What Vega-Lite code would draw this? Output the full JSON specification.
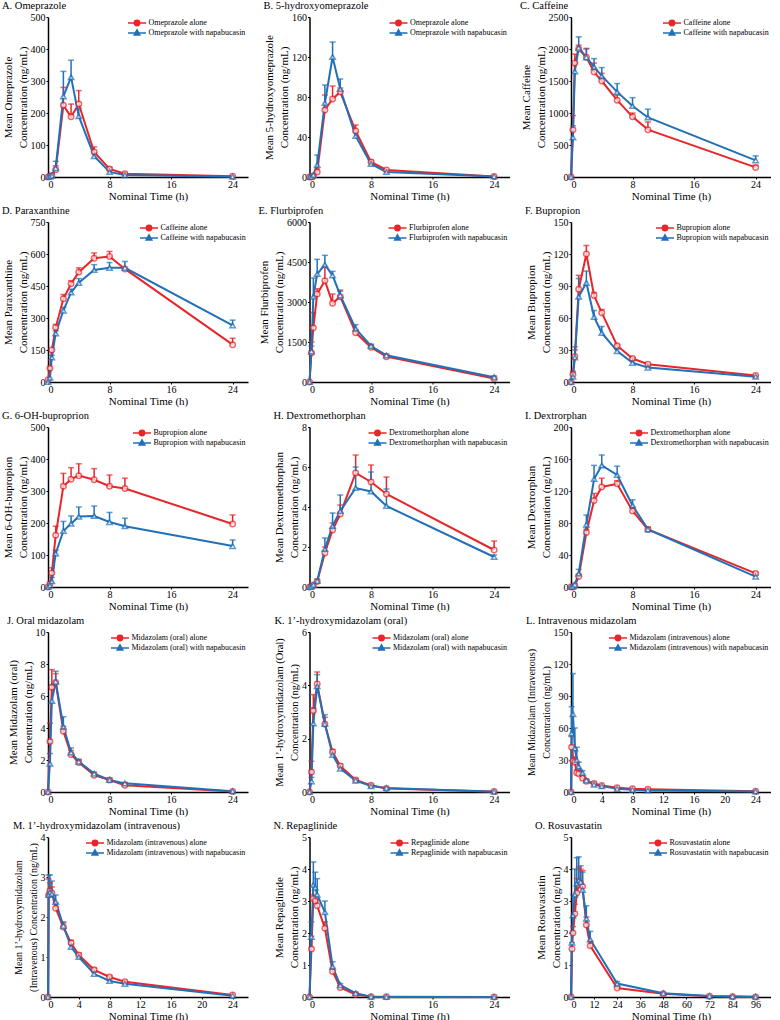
{
"$schema":"https://vega.github.io/schema/vega-lite/v6.json",
"padding":{"left":2,"top":0,"right":0,"bottom":0},
"columns":3,
"spacing":{"row":45,"column":61.5},
"bounds":"flush",
"resolve":{"scale":{"color":"independent","shape":"independent"},"legend":{"color":"independent","shape":"independent"}},
"config":{
 "view":{"stroke":null},
 "numberFormat":"d",
 "title":{"font":"Liberation Serif","fontSize":10.5,"fontWeight":"normal","anchor":"start","frame":"bounds","offset":1,"color":"black"},
 "axis":{"labelFont":"Liberation Serif","labelFontSize":10,"labelColor":"black","titleFont":"Liberation Serif","titleFontSize":11,"titleFontWeight":"normal","titleColor":"black","domainColor":"black","domainWidth":1.5,"tickColor":"black","tickSize":2,"grid":false,"labelPadding":0},
 "axisX":{"titlePadding":1},
 "axisY":{"titlePadding":2,"titleLineHeight":15,"labelPadding":1},
 "legend":{"orient":"top-right","offset":2,"padding":0,"labelFont":"Liberation Serif","labelFontSize":8,"labelColor":"black","symbolSize":36,"symbolStrokeWidth":2,"symbolOpacity":1,"rowPadding":-6,"labelOffset":7.5},
 "line":{"strokeWidth":2},
 "rule":{"strokeWidth":1.5},
 "tick":{"thickness":1.5},
 "point":{"size":30,"strokeWidth":1.5}
},
"datasets":{
"A":[{"t":0,"g":"a","m":0},{"t":0.25,"g":"a","m":2},{"t":0.5,"g":"a","m":5},{"t":1,"g":"a","m":23,"u":35},{"t":2,"g":"a","m":224,"u":280},{"t":3,"g":"a","m":188,"u":228},{"t":4,"g":"a","m":228,"u":270},{"t":6,"g":"a","m":78,"u":94},{"t":8,"g":"a","m":25,"u":31},{"t":10,"g":"a","m":10,"u":13},{"t":24,"g":"a","m":2},
{"t":0,"g":"n","m":0},{"t":0.25,"g":"n","m":1},{"t":0.5,"g":"n","m":4,"u":8},{"t":1,"g":"n","m":28,"u":49},{"t":2,"g":"n","m":252,"u":330},{"t":3,"g":"n","m":312,"u":365},{"t":4,"g":"n","m":190,"u":215},{"t":6,"g":"n","m":65,"u":75},{"t":8,"g":"n","m":16,"u":21},{"t":10,"g":"n","m":6},{"t":24,"g":"n","m":1}],
"B":[{"t":0,"g":"a","m":0},{"t":0.25,"g":"a","m":0},{"t":0.5,"g":"a","m":1},{"t":1,"g":"a","m":5,"u":8},{"t":2,"g":"a","m":67,"u":82},{"t":3,"g":"a","m":78,"u":91},{"t":4,"g":"a","m":85,"u":89},{"t":6,"g":"a","m":46,"u":52},{"t":8,"g":"a","m":15,"u":17},{"t":10,"g":"a","m":7},{"t":24,"g":"a","m":0.5},
{"t":0,"g":"n","m":0},{"t":0.25,"g":"n","m":0},{"t":0.5,"g":"n","m":2},{"t":1,"g":"n","m":12,"u":22},{"t":2,"g":"n","m":74,"u":92},{"t":3,"g":"n","m":120,"u":135},{"t":4,"g":"n","m":88,"u":98},{"t":6,"g":"n","m":41,"u":45},{"t":8,"g":"n","m":13,"u":15},{"t":10,"g":"n","m":5},{"t":24,"g":"n","m":0.5}],
"C":[{"t":0,"g":"a","m":0},{"t":0.25,"g":"a","m":740,"u":960},{"t":0.5,"g":"a","m":1780,"u":1920},{"t":1,"g":"a","m":2000,"u":2060},{"t":2,"g":"a","m":1870,"u":2010},{"t":3,"g":"a","m":1640,"u":1780},{"t":4,"g":"a","m":1500,"u":1620},{"t":6,"g":"a","m":1200,"u":1280},{"t":8,"g":"a","m":940,"u":1000},{"t":10,"g":"a","m":740,"u":860},{"t":24,"g":"a","m":150,"u":180},
{"t":0,"g":"n","m":0},{"t":0.25,"g":"n","m":620,"u":800},{"t":0.5,"g":"n","m":1650,"u":1780},{"t":1,"g":"n","m":2020,"u":2190},{"t":2,"g":"n","m":1870,"u":2000},{"t":3,"g":"n","m":1720,"u":1850},{"t":4,"g":"n","m":1580,"u":1710},{"t":6,"g":"n","m":1330,"u":1460},{"t":8,"g":"n","m":1110,"u":1240},{"t":10,"g":"n","m":930,"u":1060},{"t":24,"g":"n","m":260,"u":330}],
"D":[{"t":0,"g":"a","m":10},{"t":0.25,"g":"a","m":65},{"t":0.5,"g":"a","m":150},{"t":1,"g":"a","m":255,"u":270},{"t":2,"g":"a","m":390,"u":410},{"t":3,"g":"a","m":460,"u":475},{"t":4,"g":"a","m":515,"u":535},{"t":6,"g":"a","m":580,"u":605},{"t":8,"g":"a","m":588,"u":612},{"t":10,"g":"a","m":530},{"t":24,"g":"a","m":175,"u":205},
{"t":0,"g":"n","m":0},{"t":0.25,"g":"n","m":20},{"t":0.5,"g":"n","m":115,"u":125},{"t":1,"g":"n","m":228,"u":240},{"t":2,"g":"n","m":335,"u":350},{"t":3,"g":"n","m":420,"u":435},{"t":4,"g":"n","m":465,"u":485},{"t":6,"g":"n","m":525,"u":550},{"t":8,"g":"n","m":535,"u":560},{"t":10,"g":"n","m":535,"u":565},{"t":24,"g":"n","m":265,"u":290}],
"E":[{"t":0,"g":"a","m":0},{"t":0.25,"g":"a","m":1100,"u":1500},{"t":0.5,"g":"a","m":2030,"u":2600},{"t":1,"g":"a","m":3300,"u":3500},{"t":2,"g":"a","m":3800,"u":4300},{"t":3,"g":"a","m":2950,"u":3300},{"t":4,"g":"a","m":3200,"u":3450},{"t":6,"g":"a","m":1850,"u":1950},{"t":8,"g":"a","m":1300,"u":1380},{"t":10,"g":"a","m":950},{"t":24,"g":"a","m":130},
{"t":0,"g":"n","m":0},{"t":0.25,"g":"n","m":1150,"u":1350},{"t":0.5,"g":"n","m":3200,"u":3900},{"t":1,"g":"n","m":4050,"u":4600},{"t":2,"g":"n","m":4400,"u":4750},{"t":3,"g":"n","m":4000,"u":4150},{"t":4,"g":"n","m":3250,"u":3400},{"t":6,"g":"n","m":2000,"u":2150},{"t":8,"g":"n","m":1350,"u":1420},{"t":10,"g":"n","m":1000,"u":1050},{"t":24,"g":"n","m":180,"u":220}],
"F":[{"t":0,"g":"a","m":0},{"t":0.25,"g":"a","m":7,"u":10},{"t":0.5,"g":"a","m":24,"u":30},{"t":1,"g":"a","m":87,"u":100},{"t":2,"g":"a","m":120,"u":128},{"t":3,"g":"a","m":81,"u":84},{"t":4,"g":"a","m":65,"u":68},{"t":6,"g":"a","m":34,"u":35},{"t":8,"g":"a","m":22,"u":23},{"t":10,"g":"a","m":16.6},{"t":24,"g":"a","m":6},
{"t":0,"g":"n","m":0},{"t":0.25,"g":"n","m":5,"u":8},{"t":0.5,"g":"n","m":23,"u":33},{"t":1,"g":"n","m":80,"u":97},{"t":2,"g":"n","m":93,"u":104},{"t":3,"g":"n","m":61,"u":67},{"t":4,"g":"n","m":46,"u":52},{"t":6,"g":"n","m":29,"u":31},{"t":8,"g":"n","m":18,"u":20},{"t":10,"g":"n","m":13.5,"u":15},{"t":24,"g":"n","m":5,"u":6}],
"G":[{"t":0,"g":"a","m":0},{"t":0.25,"g":"a","m":10},{"t":0.5,"g":"a","m":44,"u":60},{"t":1,"g":"a","m":162,"u":190},{"t":2,"g":"a","m":315,"u":355},{"t":3,"g":"a","m":337,"u":373},{"t":4,"g":"a","m":348,"u":385},{"t":6,"g":"a","m":335,"u":370},{"t":8,"g":"a","m":315,"u":350},{"t":10,"g":"a","m":308,"u":340},{"t":24,"g":"a","m":197,"u":225},
{"t":0,"g":"n","m":0},{"t":0.25,"g":"n","m":5},{"t":0.5,"g":"n","m":18,"u":30},{"t":1,"g":"n","m":105,"u":115},{"t":2,"g":"n","m":175,"u":205},{"t":3,"g":"n","m":198,"u":222},{"t":4,"g":"n","m":220,"u":250},{"t":6,"g":"n","m":222,"u":253},{"t":8,"g":"n","m":203,"u":233},{"t":10,"g":"n","m":190,"u":215},{"t":24,"g":"n","m":128,"u":147}],
"H":[{"t":0,"g":"a","m":0},{"t":0.25,"g":"a","m":0.02},{"t":0.5,"g":"a","m":0.1},{"t":1,"g":"a","m":0.28},{"t":2,"g":"a","m":1.7,"u":2.0},{"t":3,"g":"a","m":2.85,"u":3.2},{"t":4,"g":"a","m":3.65,"u":4.1},{"t":6,"g":"a","m":5.7,"u":6.6},{"t":8,"g":"a","m":5.25,"u":6.1},{"t":10,"g":"a","m":4.65,"u":5.5},{"t":24,"g":"a","m":1.85,"u":2.3},
{"t":0,"g":"n","m":0},{"t":0.25,"g":"n","m":0.02},{"t":0.5,"g":"n","m":0.1},{"t":1,"g":"n","m":0.3,"u":0.4},{"t":2,"g":"n","m":1.9,"u":2.45},{"t":3,"g":"n","m":3.05,"u":3.7},{"t":4,"g":"n","m":3.8,"u":4.6},{"t":6,"g":"n","m":4.95,"u":6.0},{"t":8,"g":"n","m":4.78,"u":5.75},{"t":10,"g":"n","m":4.05,"u":4.9},{"t":24,"g":"n","m":1.5,"u":1.6}],
"I":[{"t":0,"g":"a","m":0},{"t":0.25,"g":"a","m":0},{"t":0.5,"g":"a","m":2},{"t":1,"g":"a","m":13,"u":16},{"t":2,"g":"a","m":68,"u":72},{"t":3,"g":"a","m":108,"u":117},{"t":4,"g":"a","m":125,"u":136},{"t":6,"g":"a","m":129,"u":133},{"t":8,"g":"a","m":95,"u":100},{"t":10,"g":"a","m":72,"u":74},{"t":24,"g":"a","m":17,"u":18},
{"t":0,"g":"n","m":0},{"t":0.25,"g":"n","m":0.5},{"t":0.5,"g":"n","m":3},{"t":1,"g":"n","m":17,"u":22},{"t":2,"g":"n","m":78,"u":90},{"t":3,"g":"n","m":135,"u":152},{"t":4,"g":"n","m":152,"u":165},{"t":6,"g":"n","m":140,"u":151},{"t":8,"g":"n","m":102,"u":109},{"t":10,"g":"n","m":72,"u":75},{"t":24,"g":"n","m":13,"u":15}],
"J":[{"t":0,"g":"a","m":0},{"t":0.25,"g":"a","m":3.15,"u":4.3},{"t":0.5,"g":"a","m":6.55,"u":7.65},{"t":1,"g":"a","m":6.85,"u":7.4},{"t":2,"g":"a","m":3.8,"u":4.1},{"t":3,"g":"a","m":2.35,"u":2.6},{"t":4,"g":"a","m":1.85,"u":2.0},{"t":6,"g":"a","m":1.05,"u":1.15},{"t":8,"g":"a","m":0.75,"u":0.85},{"t":10,"g":"a","m":0.42,"u":0.5},{"t":24,"g":"a","m":0.03},
{"t":0,"g":"n","m":0},{"t":0.25,"g":"n","m":1.78,"u":2.4},{"t":0.5,"g":"n","m":5.7,"u":6.7},{"t":1,"g":"n","m":6.9,"u":7.55},{"t":2,"g":"n","m":4.08,"u":4.7},{"t":3,"g":"n","m":2.47,"u":2.75},{"t":4,"g":"n","m":1.9,"u":2.05},{"t":6,"g":"n","m":1.15,"u":1.25},{"t":8,"g":"n","m":0.75,"u":0.85},{"t":10,"g":"n","m":0.54,"u":0.6},{"t":24,"g":"n","m":0.05}],
"K":[{"t":0,"g":"a","m":0},{"t":0.25,"g":"a","m":0.75,"u":1.15},{"t":0.5,"g":"a","m":3.05,"u":3.65},{"t":1,"g":"a","m":4.05,"u":4.5},{"t":2,"g":"a","m":2.55,"u":2.8},{"t":3,"g":"a","m":1.5,"u":1.6},{"t":4,"g":"a","m":0.98,"u":1.05},{"t":6,"g":"a","m":0.45,"u":0.5},{"t":8,"g":"a","m":0.25,"u":0.28},{"t":10,"g":"a","m":0.13},{"t":24,"g":"a","m":0.02},
{"t":0,"g":"n","m":0},{"t":0.25,"g":"n","m":0.4,"u":0.55},{"t":0.5,"g":"n","m":2.57,"u":3.15},{"t":1,"g":"n","m":3.97,"u":4.4},{"t":2,"g":"n","m":2.55,"u":2.9},{"t":3,"g":"n","m":1.39,"u":1.5},{"t":4,"g":"n","m":0.88,"u":0.95},{"t":6,"g":"n","m":0.43,"u":0.48},{"t":8,"g":"n","m":0.22,"u":0.25},{"t":10,"g":"n","m":0.15,"u":0.17},{"t":24,"g":"n","m":0.01}],
"L":[{"t":0,"g":"a","m":0},{"t":0.083,"g":"a","m":42,"u":52},{"t":0.25,"g":"a","m":29,"u":40},{"t":0.5,"g":"a","m":28,"u":33},{"t":0.75,"g":"a","m":18,"u":21},{"t":1,"g":"a","m":17,"u":20},{"t":1.5,"g":"a","m":13},{"t":2,"g":"a","m":10,"u":11},{"t":3,"g":"a","m":8,"u":9},{"t":4,"g":"a","m":6},{"t":6,"g":"a","m":4},{"t":8,"g":"a","m":3},{"t":10,"g":"a","m":2.5},{"t":24,"g":"a","m":0.8},
{"t":0,"g":"n","m":0},{"t":0.083,"g":"n","m":55,"u":80},{"t":0.25,"g":"n","m":73,"u":111},{"t":0.5,"g":"n","m":41,"u":60},{"t":0.75,"g":"n","m":30,"u":42},{"t":1,"g":"n","m":24,"u":28},{"t":1.5,"g":"n","m":18,"u":20},{"t":2,"g":"n","m":11,"u":12},{"t":3,"g":"n","m":7,"u":8},{"t":4,"g":"n","m":5.5},{"t":6,"g":"n","m":3},{"t":8,"g":"n","m":2},{"t":10,"g":"n","m":1.5},{"t":24,"g":"n","m":0.5}],
"M":[{"t":0,"g":"a","m":0},{"t":0.083,"g":"a","m":2.55,"u":2.95},{"t":0.25,"g":"a","m":2.65,"u":2.85},{"t":0.5,"g":"a","m":2.6,"u":2.75},{"t":1,"g":"a","m":2.22,"u":2.35},{"t":2,"g":"a","m":1.75,"u":1.85},{"t":3,"g":"a","m":1.35,"u":1.42},{"t":4,"g":"a","m":1.05,"u":1.1},{"t":6,"g":"a","m":0.68,"u":0.72},{"t":8,"g":"a","m":0.5,"u":0.53},{"t":10,"g":"a","m":0.38,"u":0.4},{"t":24,"g":"a","m":0.05},
{"t":0,"g":"n","m":0},{"t":0.083,"g":"n","m":2.55,"u":3.05},{"t":0.25,"g":"n","m":2.62,"u":3.05},{"t":0.5,"g":"n","m":2.58,"u":2.9},{"t":1,"g":"n","m":2.38,"u":2.55},{"t":2,"g":"n","m":1.78,"u":1.88},{"t":3,"g":"n","m":1.25,"u":1.32},{"t":4,"g":"n","m":1.0,"u":1.05},{"t":6,"g":"n","m":0.58,"u":0.62},{"t":8,"g":"n","m":0.4,"u":0.43},{"t":10,"g":"n","m":0.33,"u":0.35},{"t":24,"g":"n","m":0.03}],
"N":[{"t":0,"g":"a","m":0},{"t":0.25,"g":"a","m":1.5,"u":1.9},{"t":0.5,"g":"a","m":3.08,"u":3.2},{"t":0.75,"g":"a","m":3.0,"u":3.15},{"t":1,"g":"a","m":2.85,"u":3.05},{"t":2,"g":"a","m":2.15,"u":2.35},{"t":3,"g":"a","m":0.8,"u":0.9},{"t":4,"g":"a","m":0.3,"u":0.35},{"t":6,"g":"a","m":0.08},{"t":8,"g":"a","m":0.01},{"t":10,"g":"a","m":0.01},{"t":24,"g":"a","m":0},
{"t":0,"g":"n","m":0},{"t":0.25,"g":"n","m":1.88,"u":2.35},{"t":0.5,"g":"n","m":3.5,"u":4.22},{"t":0.75,"g":"n","m":3.42,"u":3.9},{"t":1,"g":"n","m":3.2,"u":3.7},{"t":2,"g":"n","m":2.65,"u":3.0},{"t":3,"g":"n","m":0.95,"u":1.1},{"t":4,"g":"n","m":0.37,"u":0.42},{"t":6,"g":"n","m":0.12,"u":0.15},{"t":8,"g":"n","m":0.01},{"t":10,"g":"n","m":0},{"t":24,"g":"n","m":0}],
"O":[{"t":0,"g":"a","m":0},{"t":0.5,"g":"a","m":1.5,"u":1.7},{"t":1,"g":"a","m":2.0,"u":2.2},{"t":2,"g":"a","m":2.6,"u":2.9},{"t":3,"g":"a","m":3.25,"u":3.7},{"t":4,"g":"a","m":3.5,"u":4.05},{"t":5,"g":"a","m":3.55,"u":4.0},{"t":6,"g":"a","m":3.45,"u":3.95},{"t":8,"g":"a","m":2.25,"u":2.5},{"t":10,"g":"a","m":1.6,"u":1.75},{"t":24,"g":"a","m":0.28,"u":0.33},{"t":48,"g":"a","m":0.1},{"t":72,"g":"a","m":0.02},{"t":84,"g":"a","m":0.01},{"t":96,"g":"a","m":0},
{"t":0,"g":"n","m":0},{"t":0.5,"g":"n","m":1.7,"u":2.0},{"t":1,"g":"n","m":2.55,"u":3.2},{"t":2,"g":"n","m":3.2,"u":4.0},{"t":3,"g":"n","m":3.55,"u":4.35},{"t":4,"g":"n","m":3.65,"u":4.38},{"t":5,"g":"n","m":3.6,"u":4.1},{"t":6,"g":"n","m":3.35,"u":3.9},{"t":8,"g":"n","m":2.45,"u":2.85},{"t":10,"g":"n","m":1.8,"u":2.05},{"t":24,"g":"n","m":0.42,"u":0.48},{"t":48,"g":"n","m":0.12},{"t":72,"g":"n","m":0.03},{"t":84,"g":"n","m":0.02},{"t":96,"g":"n","m":0.01}]
},
"concat":[
{"title":"A. Omeprazole","data":{"name":"A"},"width":200,"height":160,
"encoding":{"x":{"field":"t","type":"quantitative","title":"Nominal Time (h)","scale":{"domain":[0,26]},"axis":{"values":[0,8,16,24]}},
"y":{"field":"m","type":"quantitative","title":["Mean Omeprazole","Concentration (ng/mL)"],"scale":{"domain":[0,500]},"axis":{"values":[0,100,200,300,400,500]}},
"color":{"field":"g","type":"nominal","scale":{"domain":["a","n"],"range":["#E8262A","#2170B8"]},"legend":{"title":null,"labelExpr":"datum.label == 'a' ? 'Omeprazole alone' : 'Omeprazole with napabucasin'"}}},
"layer":[
{"transform":[{"filter":"datum.u != null"}],"mark":"rule","encoding":{"y2":{"field":"u"}}},
{"transform":[{"filter":"datum.u != null"}],"mark":{"type":"tick","orient":"horizontal","size":6},"encoding":{"y":{"field":"u","type":"quantitative"}}},
{"mark":"line"},
{"transform":[{"filter":"datum.g == 'a'"}],"mark":{"type":"point","shape":"circle","filled":false,"fill":"white"}},
{"transform":[{"filter":"datum.g == 'n'"}],"mark":{"type":"point","shape":"triangle-up","filled":false,"fill":"white"}},
{"transform":[{"filter":"datum.t < 0"}],"mark":{"type":"point","filled":true},"encoding":{
"shape":{"field":"g","type":"nominal","scale":{"domain":["a","n"],"range":["M-3,0H3M0.9,0A0.9,0.9,0,1,1,-0.9,0A0.9,0.9,0,1,1,0.9,0Z","M-3,0H3M0,-1.05L0.95,0.7L-0.95,0.7Z"]},"legend":{"title":null,"labelExpr":"datum.label == 'a' ? 'Omeprazole alone' : 'Omeprazole with napabucasin'"}}}}
]},
{"title":"B. 5-hydroxyomeprazole","data":{"name":"B"},"width":200,"height":160,
"encoding":{"x":{"field":"t","type":"quantitative","title":"Nominal Time (h)","scale":{"domain":[0,26]},"axis":{"values":[0,8,16,24]}},
"y":{"field":"m","type":"quantitative","title":["Mean 5-hydroxyomeprazole","Concentration (ng/mL)"],"scale":{"domain":[0,160]},"axis":{"values":[0,40,80,120,160]}},
"color":{"field":"g","type":"nominal","scale":{"domain":["a","n"],"range":["#E8262A","#2170B8"]},"legend":{"title":null,"labelExpr":"datum.label == 'a' ? 'Omeprazole alone' : 'Omeprazole with napabucasin'"}}},
"layer":[
{"transform":[{"filter":"datum.u != null"}],"mark":"rule","encoding":{"y2":{"field":"u"}}},
{"transform":[{"filter":"datum.u != null"}],"mark":{"type":"tick","orient":"horizontal","size":6},"encoding":{"y":{"field":"u","type":"quantitative"}}},
{"mark":"line"},
{"transform":[{"filter":"datum.g == 'a'"}],"mark":{"type":"point","shape":"circle","filled":false,"fill":"white"}},
{"transform":[{"filter":"datum.g == 'n'"}],"mark":{"type":"point","shape":"triangle-up","filled":false,"fill":"white"}},
{"transform":[{"filter":"datum.t < 0"}],"mark":{"type":"point","filled":true},"encoding":{
"shape":{"field":"g","type":"nominal","scale":{"domain":["a","n"],"range":["M-3,0H3M0.9,0A0.9,0.9,0,1,1,-0.9,0A0.9,0.9,0,1,1,0.9,0Z","M-3,0H3M0,-1.05L0.95,0.7L-0.95,0.7Z"]},"legend":{"title":null,"labelExpr":"datum.label == 'a' ? 'Omeprazole alone' : 'Omeprazole with napabucasin'"}}}}
]},
{"title":"C. Caffeine","data":{"name":"C"},"width":200,"height":160,
"encoding":{"x":{"field":"t","type":"quantitative","title":"Nominal Time (h)","scale":{"domain":[0,26]},"axis":{"values":[0,8,16,24]}},
"y":{"field":"m","type":"quantitative","title":["Mean Caffeine","Concentration (ng/mL)"],"scale":{"domain":[0,2500]},"axis":{"values":[0,500,1000,1500,2000,2500]}},
"color":{"field":"g","type":"nominal","scale":{"domain":["a","n"],"range":["#E8262A","#2170B8"]},"legend":{"title":null,"labelExpr":"datum.label == 'a' ? 'Caffeine alone' : 'Caffeine with napabucasin'"}}},
"layer":[
{"transform":[{"filter":"datum.u != null"}],"mark":"rule","encoding":{"y2":{"field":"u"}}},
{"transform":[{"filter":"datum.u != null"}],"mark":{"type":"tick","orient":"horizontal","size":6},"encoding":{"y":{"field":"u","type":"quantitative"}}},
{"mark":"line"},
{"transform":[{"filter":"datum.g == 'a'"}],"mark":{"type":"point","shape":"circle","filled":false,"fill":"white"}},
{"transform":[{"filter":"datum.g == 'n'"}],"mark":{"type":"point","shape":"triangle-up","filled":false,"fill":"white"}},
{"transform":[{"filter":"datum.t < 0"}],"mark":{"type":"point","filled":true},"encoding":{
"shape":{"field":"g","type":"nominal","scale":{"domain":["a","n"],"range":["M-3,0H3M0.9,0A0.9,0.9,0,1,1,-0.9,0A0.9,0.9,0,1,1,0.9,0Z","M-3,0H3M0,-1.05L0.95,0.7L-0.95,0.7Z"]},"legend":{"title":null,"labelExpr":"datum.label == 'a' ? 'Caffeine alone' : 'Caffeine with napabucasin'"}}}}
]},
{"title":"D. Paraxanthine","data":{"name":"D"},"width":200,"height":160,
"encoding":{"x":{"field":"t","type":"quantitative","title":"Nominal Time (h)","scale":{"domain":[0,26]},"axis":{"values":[0,8,16,24]}},
"y":{"field":"m","type":"quantitative","title":["Mean Paraxanthine","Concentration (ng/mL)"],"scale":{"domain":[0,750]},"axis":{"values":[0,150,300,450,600,750]}},
"color":{"field":"g","type":"nominal","scale":{"domain":["a","n"],"range":["#E8262A","#2170B8"]},"legend":{"title":null,"labelExpr":"datum.label == 'a' ? 'Caffeine alone' : 'Caffeine with napabucasin'"}}},
"layer":[
{"transform":[{"filter":"datum.u != null"}],"mark":"rule","encoding":{"y2":{"field":"u"}}},
{"transform":[{"filter":"datum.u != null"}],"mark":{"type":"tick","orient":"horizontal","size":6},"encoding":{"y":{"field":"u","type":"quantitative"}}},
{"mark":"line"},
{"transform":[{"filter":"datum.g == 'a'"}],"mark":{"type":"point","shape":"circle","filled":false,"fill":"white"}},
{"transform":[{"filter":"datum.g == 'n'"}],"mark":{"type":"point","shape":"triangle-up","filled":false,"fill":"white"}},
{"transform":[{"filter":"datum.t < 0"}],"mark":{"type":"point","filled":true},"encoding":{
"shape":{"field":"g","type":"nominal","scale":{"domain":["a","n"],"range":["M-3,0H3M0.9,0A0.9,0.9,0,1,1,-0.9,0A0.9,0.9,0,1,1,0.9,0Z","M-3,0H3M0,-1.05L0.95,0.7L-0.95,0.7Z"]},"legend":{"title":null,"labelExpr":"datum.label == 'a' ? 'Caffeine alone' : 'Caffeine with napabucasin'"}}}}
]},
{"title":"E. Flurbiprofen","data":{"name":"E"},"width":200,"height":160,
"encoding":{"x":{"field":"t","type":"quantitative","title":"Nominal Time (h)","scale":{"domain":[0,26]},"axis":{"values":[0,8,16,24]}},
"y":{"field":"m","type":"quantitative","title":["Mean Flurbiprofen","Concentration (ng/mL)"],"scale":{"domain":[0,6000]},"axis":{"values":[0,1500,3000,4500,6000]}},
"color":{"field":"g","type":"nominal","scale":{"domain":["a","n"],"range":["#E8262A","#2170B8"]},"legend":{"title":null,"labelExpr":"datum.label == 'a' ? 'Flurbiprofen alone' : 'Flurbiprofen with napabucasin'"}}},
"layer":[
{"transform":[{"filter":"datum.u != null"}],"mark":"rule","encoding":{"y2":{"field":"u"}}},
{"transform":[{"filter":"datum.u != null"}],"mark":{"type":"tick","orient":"horizontal","size":6},"encoding":{"y":{"field":"u","type":"quantitative"}}},
{"mark":"line"},
{"transform":[{"filter":"datum.g == 'a'"}],"mark":{"type":"point","shape":"circle","filled":false,"fill":"white"}},
{"transform":[{"filter":"datum.g == 'n'"}],"mark":{"type":"point","shape":"triangle-up","filled":false,"fill":"white"}},
{"transform":[{"filter":"datum.t < 0"}],"mark":{"type":"point","filled":true},"encoding":{
"shape":{"field":"g","type":"nominal","scale":{"domain":["a","n"],"range":["M-3,0H3M0.9,0A0.9,0.9,0,1,1,-0.9,0A0.9,0.9,0,1,1,0.9,0Z","M-3,0H3M0,-1.05L0.95,0.7L-0.95,0.7Z"]},"legend":{"title":null,"labelExpr":"datum.label == 'a' ? 'Flurbiprofen alone' : 'Flurbiprofen with napabucasin'"}}}}
]},
{"title":"F. Bupropion","data":{"name":"F"},"width":200,"height":160,
"encoding":{"x":{"field":"t","type":"quantitative","title":"Nominal Time (h)","scale":{"domain":[0,26]},"axis":{"values":[0,8,16,24]}},
"y":{"field":"m","type":"quantitative","title":["Mean Bupropion","Concentration (ng/mL)"],"scale":{"domain":[0,150]},"axis":{"values":[0,30,60,90,120,150]}},
"color":{"field":"g","type":"nominal","scale":{"domain":["a","n"],"range":["#E8262A","#2170B8"]},"legend":{"title":null,"labelExpr":"datum.label == 'a' ? 'Bupropion alone' : 'Bupropion with napabucasin'"}}},
"layer":[
{"transform":[{"filter":"datum.u != null"}],"mark":"rule","encoding":{"y2":{"field":"u"}}},
{"transform":[{"filter":"datum.u != null"}],"mark":{"type":"tick","orient":"horizontal","size":6},"encoding":{"y":{"field":"u","type":"quantitative"}}},
{"mark":"line"},
{"transform":[{"filter":"datum.g == 'a'"}],"mark":{"type":"point","shape":"circle","filled":false,"fill":"white"}},
{"transform":[{"filter":"datum.g == 'n'"}],"mark":{"type":"point","shape":"triangle-up","filled":false,"fill":"white"}},
{"transform":[{"filter":"datum.t < 0"}],"mark":{"type":"point","filled":true},"encoding":{
"shape":{"field":"g","type":"nominal","scale":{"domain":["a","n"],"range":["M-3,0H3M0.9,0A0.9,0.9,0,1,1,-0.9,0A0.9,0.9,0,1,1,0.9,0Z","M-3,0H3M0,-1.05L0.95,0.7L-0.95,0.7Z"]},"legend":{"title":null,"labelExpr":"datum.label == 'a' ? 'Bupropion alone' : 'Bupropion with napabucasin'"}}}}
]},
{"title":"G. 6-OH-buproprion","data":{"name":"G"},"width":200,"height":160,
"encoding":{"x":{"field":"t","type":"quantitative","title":"Nominal Time (h)","scale":{"domain":[0,26]},"axis":{"values":[0,8,16,24]}},
"y":{"field":"m","type":"quantitative","title":["Mean 6-OH-bupropion","Concentration (ng/mL)"],"scale":{"domain":[0,500]},"axis":{"values":[0,100,200,300,400,500]}},
"color":{"field":"g","type":"nominal","scale":{"domain":["a","n"],"range":["#E8262A","#2170B8"]},"legend":{"title":null,"labelExpr":"datum.label == 'a' ? 'Bupropion alone' : 'Bupropion with napabucasin'"}}},
"layer":[
{"transform":[{"filter":"datum.u != null"}],"mark":"rule","encoding":{"y2":{"field":"u"}}},
{"transform":[{"filter":"datum.u != null"}],"mark":{"type":"tick","orient":"horizontal","size":6},"encoding":{"y":{"field":"u","type":"quantitative"}}},
{"mark":"line"},
{"transform":[{"filter":"datum.g == 'a'"}],"mark":{"type":"point","shape":"circle","filled":false,"fill":"white"}},
{"transform":[{"filter":"datum.g == 'n'"}],"mark":{"type":"point","shape":"triangle-up","filled":false,"fill":"white"}},
{"transform":[{"filter":"datum.t < 0"}],"mark":{"type":"point","filled":true},"encoding":{
"shape":{"field":"g","type":"nominal","scale":{"domain":["a","n"],"range":["M-3,0H3M0.9,0A0.9,0.9,0,1,1,-0.9,0A0.9,0.9,0,1,1,0.9,0Z","M-3,0H3M0,-1.05L0.95,0.7L-0.95,0.7Z"]},"legend":{"title":null,"labelExpr":"datum.label == 'a' ? 'Bupropion alone' : 'Bupropion with napabucasin'"}}}}
]},
{"title":"H. Dextromethorphan","data":{"name":"H"},"width":200,"height":160,
"encoding":{"x":{"field":"t","type":"quantitative","title":"Nominal Time (h)","scale":{"domain":[0,26]},"axis":{"values":[0,8,16,24]}},
"y":{"field":"m","type":"quantitative","title":["Mean Dextromethorphan","Concentration (ng/mL)"],"scale":{"domain":[0,8]},"axis":{"values":[0,2,4,6,8]}},
"color":{"field":"g","type":"nominal","scale":{"domain":["a","n"],"range":["#E8262A","#2170B8"]},"legend":{"title":null,"labelExpr":"datum.label == 'a' ? 'Dextromethorphan alone' : 'Dextromethorphan with napabucasin'"}}},
"layer":[
{"transform":[{"filter":"datum.u != null"}],"mark":"rule","encoding":{"y2":{"field":"u"}}},
{"transform":[{"filter":"datum.u != null"}],"mark":{"type":"tick","orient":"horizontal","size":6},"encoding":{"y":{"field":"u","type":"quantitative"}}},
{"mark":"line"},
{"transform":[{"filter":"datum.g == 'a'"}],"mark":{"type":"point","shape":"circle","filled":false,"fill":"white"}},
{"transform":[{"filter":"datum.g == 'n'"}],"mark":{"type":"point","shape":"triangle-up","filled":false,"fill":"white"}},
{"transform":[{"filter":"datum.t < 0"}],"mark":{"type":"point","filled":true},"encoding":{
"shape":{"field":"g","type":"nominal","scale":{"domain":["a","n"],"range":["M-3,0H3M0.9,0A0.9,0.9,0,1,1,-0.9,0A0.9,0.9,0,1,1,0.9,0Z","M-3,0H3M0,-1.05L0.95,0.7L-0.95,0.7Z"]},"legend":{"title":null,"labelExpr":"datum.label == 'a' ? 'Dextromethorphan alone' : 'Dextromethorphan with napabucasin'"}}}}
]},
{"title":"I. Dextrorphan","data":{"name":"I"},"width":200,"height":160,
"encoding":{"x":{"field":"t","type":"quantitative","title":"Nominal Time (h)","scale":{"domain":[0,26]},"axis":{"values":[0,8,16,24]}},
"y":{"field":"m","type":"quantitative","title":["Mean Dextrorphan","Concentration (ng/mL)"],"scale":{"domain":[0,200]},"axis":{"values":[0,40,80,120,160,200]}},
"color":{"field":"g","type":"nominal","scale":{"domain":["a","n"],"range":["#E8262A","#2170B8"]},"legend":{"title":null,"labelExpr":"datum.label == 'a' ? 'Dextromethorphan alone' : 'Dextromethorphan with napabucasin'"}}},
"layer":[
{"transform":[{"filter":"datum.u != null"}],"mark":"rule","encoding":{"y2":{"field":"u"}}},
{"transform":[{"filter":"datum.u != null"}],"mark":{"type":"tick","orient":"horizontal","size":6},"encoding":{"y":{"field":"u","type":"quantitative"}}},
{"mark":"line"},
{"transform":[{"filter":"datum.g == 'a'"}],"mark":{"type":"point","shape":"circle","filled":false,"fill":"white"}},
{"transform":[{"filter":"datum.g == 'n'"}],"mark":{"type":"point","shape":"triangle-up","filled":false,"fill":"white"}},
{"transform":[{"filter":"datum.t < 0"}],"mark":{"type":"point","filled":true},"encoding":{
"shape":{"field":"g","type":"nominal","scale":{"domain":["a","n"],"range":["M-3,0H3M0.9,0A0.9,0.9,0,1,1,-0.9,0A0.9,0.9,0,1,1,0.9,0Z","M-3,0H3M0,-1.05L0.95,0.7L-0.95,0.7Z"]},"legend":{"title":null,"labelExpr":"datum.label == 'a' ? 'Dextromethorphan alone' : 'Dextromethorphan with napabucasin'"}}}}
]},
{"title":"J. Oral midazolam","data":{"name":"J"},"width":200,"height":160,
"encoding":{"x":{"field":"t","type":"quantitative","title":"Nominal Time (h)","scale":{"domain":[0,26]},"axis":{"values":[0,8,16,24]}},
"y":{"field":"m","type":"quantitative","title":["Mean Midazolam (oral)","Concentration (ng/mL)"],"scale":{"domain":[0,10]},"axis":{"values":[0,2,4,6,8,10]}},
"color":{"field":"g","type":"nominal","scale":{"domain":["a","n"],"range":["#E8262A","#2170B8"]},"legend":{"title":null,"labelExpr":"datum.label == 'a' ? 'Midazolam (oral) alone' : 'Midazolam (oral) with napabucasin'"}}},
"layer":[
{"transform":[{"filter":"datum.u != null"}],"mark":"rule","encoding":{"y2":{"field":"u"}}},
{"transform":[{"filter":"datum.u != null"}],"mark":{"type":"tick","orient":"horizontal","size":6},"encoding":{"y":{"field":"u","type":"quantitative"}}},
{"mark":"line"},
{"transform":[{"filter":"datum.g == 'a'"}],"mark":{"type":"point","shape":"circle","filled":false,"fill":"white"}},
{"transform":[{"filter":"datum.g == 'n'"}],"mark":{"type":"point","shape":"triangle-up","filled":false,"fill":"white"}},
{"transform":[{"filter":"datum.t < 0"}],"mark":{"type":"point","filled":true},"encoding":{
"shape":{"field":"g","type":"nominal","scale":{"domain":["a","n"],"range":["M-3,0H3M0.9,0A0.9,0.9,0,1,1,-0.9,0A0.9,0.9,0,1,1,0.9,0Z","M-3,0H3M0,-1.05L0.95,0.7L-0.95,0.7Z"]},"legend":{"title":null,"labelExpr":"datum.label == 'a' ? 'Midazolam (oral) alone' : 'Midazolam (oral) with napabucasin'"}}}}
]},
{"title":"K. 1’-hydroxymidazolam (oral)","data":{"name":"K"},"width":200,"height":160,
"encoding":{"x":{"field":"t","type":"quantitative","title":"Nominal Time (h)","scale":{"domain":[0,26]},"axis":{"values":[0,8,16,24]}},
"y":{"field":"m","type":"quantitative","title":["Mean 1’-hydroxymidazolam (Oral)","Concentration (ng/mL)"],"scale":{"domain":[0,6]},"axis":{"values":[0,2,4,6],"titleFontSize":10.5}},
"color":{"field":"g","type":"nominal","scale":{"domain":["a","n"],"range":["#E8262A","#2170B8"]},"legend":{"title":null,"labelExpr":"datum.label == 'a' ? 'Midazolam (oral) alone' : 'Midazolam (oral) with napabucasin'"}}},
"layer":[
{"transform":[{"filter":"datum.u != null"}],"mark":"rule","encoding":{"y2":{"field":"u"}}},
{"transform":[{"filter":"datum.u != null"}],"mark":{"type":"tick","orient":"horizontal","size":6},"encoding":{"y":{"field":"u","type":"quantitative"}}},
{"mark":"line"},
{"transform":[{"filter":"datum.g == 'a'"}],"mark":{"type":"point","shape":"circle","filled":false,"fill":"white"}},
{"transform":[{"filter":"datum.g == 'n'"}],"mark":{"type":"point","shape":"triangle-up","filled":false,"fill":"white"}},
{"transform":[{"filter":"datum.t < 0"}],"mark":{"type":"point","filled":true},"encoding":{
"shape":{"field":"g","type":"nominal","scale":{"domain":["a","n"],"range":["M-3,0H3M0.9,0A0.9,0.9,0,1,1,-0.9,0A0.9,0.9,0,1,1,0.9,0Z","M-3,0H3M0,-1.05L0.95,0.7L-0.95,0.7Z"]},"legend":{"title":null,"labelExpr":"datum.label == 'a' ? 'Midazolam (oral) alone' : 'Midazolam (oral) with napabucasin'"}}}}
]},
{"title":"L. Intravenous midazolam","data":{"name":"L"},"width":200,"height":160,
"encoding":{"x":{"field":"t","type":"quantitative","title":"Nominal Time (h)","scale":{"domain":[0,26]},"axis":{"values":[0,4,8,12,16,20,24]}},
"y":{"field":"m","type":"quantitative","title":["Mean Midazolam (Intravenous)","Concentration (ng/mL)"],"scale":{"domain":[0,150]},"axis":{"values":[0,30,60,90,120,150],"titleFontSize":10}},
"color":{"field":"g","type":"nominal","scale":{"domain":["a","n"],"range":["#E8262A","#2170B8"]},"legend":{"title":null,"labelExpr":"datum.label == 'a' ? 'Midazolam (intravenous) alone' : 'Midazolam (intravenous) with napabucasin'"}}},
"layer":[
{"transform":[{"filter":"datum.u != null"}],"mark":"rule","encoding":{"y2":{"field":"u"}}},
{"transform":[{"filter":"datum.u != null"}],"mark":{"type":"tick","orient":"horizontal","size":6},"encoding":{"y":{"field":"u","type":"quantitative"}}},
{"mark":"line"},
{"transform":[{"filter":"datum.g == 'a'"}],"mark":{"type":"point","shape":"circle","filled":false,"fill":"white"}},
{"transform":[{"filter":"datum.g == 'n'"}],"mark":{"type":"point","shape":"triangle-up","filled":false,"fill":"white"}},
{"transform":[{"filter":"datum.t < 0"}],"mark":{"type":"point","filled":true},"encoding":{
"shape":{"field":"g","type":"nominal","scale":{"domain":["a","n"],"range":["M-3,0H3M0.9,0A0.9,0.9,0,1,1,-0.9,0A0.9,0.9,0,1,1,0.9,0Z","M-3,0H3M0,-1.05L0.95,0.7L-0.95,0.7Z"]},"legend":{"title":null,"labelExpr":"datum.label == 'a' ? 'Midazolam (intravenous) alone' : 'Midazolam (intravenous) with napabucasin'"}}}}
]},
{"title":"M. 1’-hydroxymidazolam (intravenous)","data":{"name":"M"},"width":200,"height":160,
"encoding":{"x":{"field":"t","type":"quantitative","title":"Nominal Time (h)","scale":{"domain":[0,26]},"axis":{"values":[0,4,8,12,16,20,24]}},
"y":{"field":"m","type":"quantitative","title":["Mean 1’-hydroxymidazolam","(Intravenous) Concentration (ng/mL)"],"scale":{"domain":[0,4]},"axis":{"values":[0,1,2,3,4],"titleFontSize":10}},
"color":{"field":"g","type":"nominal","scale":{"domain":["a","n"],"range":["#E8262A","#2170B8"]},"legend":{"title":null,"labelExpr":"datum.label == 'a' ? 'Midazolam (intravenous) alone' : 'Midazolam (intravenous) with napabucasin'"}}},
"layer":[
{"transform":[{"filter":"datum.u != null"}],"mark":"rule","encoding":{"y2":{"field":"u"}}},
{"transform":[{"filter":"datum.u != null"}],"mark":{"type":"tick","orient":"horizontal","size":6},"encoding":{"y":{"field":"u","type":"quantitative"}}},
{"mark":"line"},
{"transform":[{"filter":"datum.g == 'a'"}],"mark":{"type":"point","shape":"circle","filled":false,"fill":"white"}},
{"transform":[{"filter":"datum.g == 'n'"}],"mark":{"type":"point","shape":"triangle-up","filled":false,"fill":"white"}},
{"transform":[{"filter":"datum.t < 0"}],"mark":{"type":"point","filled":true},"encoding":{
"shape":{"field":"g","type":"nominal","scale":{"domain":["a","n"],"range":["M-3,0H3M0.9,0A0.9,0.9,0,1,1,-0.9,0A0.9,0.9,0,1,1,0.9,0Z","M-3,0H3M0,-1.05L0.95,0.7L-0.95,0.7Z"]},"legend":{"title":null,"labelExpr":"datum.label == 'a' ? 'Midazolam (intravenous) alone' : 'Midazolam (intravenous) with napabucasin'"}}}}
]},
{"title":"N. Repaglinide","data":{"name":"N"},"width":200,"height":160,
"encoding":{"x":{"field":"t","type":"quantitative","title":"Nominal Time (h)","scale":{"domain":[0,26]},"axis":{"values":[0,8,16,24]}},
"y":{"field":"m","type":"quantitative","title":["Mean Repaglinide","Concentration (ng/mL)"],"scale":{"domain":[0,5]},"axis":{"values":[0,1,2,3,4,5]}},
"color":{"field":"g","type":"nominal","scale":{"domain":["a","n"],"range":["#E8262A","#2170B8"]},"legend":{"title":null,"labelExpr":"datum.label == 'a' ? 'Repaglinide alone' : 'Repaglinide with napabucasin'"}}},
"layer":[
{"transform":[{"filter":"datum.u != null"}],"mark":"rule","encoding":{"y2":{"field":"u"}}},
{"transform":[{"filter":"datum.u != null"}],"mark":{"type":"tick","orient":"horizontal","size":6},"encoding":{"y":{"field":"u","type":"quantitative"}}},
{"mark":"line"},
{"transform":[{"filter":"datum.g == 'a'"}],"mark":{"type":"point","shape":"circle","filled":false,"fill":"white"}},
{"transform":[{"filter":"datum.g == 'n'"}],"mark":{"type":"point","shape":"triangle-up","filled":false,"fill":"white"}},
{"transform":[{"filter":"datum.t < 0"}],"mark":{"type":"point","filled":true},"encoding":{
"shape":{"field":"g","type":"nominal","scale":{"domain":["a","n"],"range":["M-3,0H3M0.9,0A0.9,0.9,0,1,1,-0.9,0A0.9,0.9,0,1,1,0.9,0Z","M-3,0H3M0,-1.05L0.95,0.7L-0.95,0.7Z"]},"legend":{"title":null,"labelExpr":"datum.label == 'a' ? 'Repaglinide alone' : 'Repaglinide with napabucasin'"}}}}
]},
{"title":"O. Rosuvastatin","data":{"name":"O"},"width":200,"height":160,
"encoding":{"x":{"field":"t","type":"quantitative","title":"Nominal Time (h)","scale":{"domain":[0,104]},"axis":{"values":[0,12,24,36,48,60,72,84,96]}},
"y":{"field":"m","type":"quantitative","title":["Mean Rosuvastatin","Concentration (ng/mL)"],"scale":{"domain":[0,5]},"axis":{"values":[0,1,2,3,4,5]}},
"color":{"field":"g","type":"nominal","scale":{"domain":["a","n"],"range":["#E8262A","#2170B8"]},"legend":{"title":null,"labelExpr":"datum.label == 'a' ? 'Rosuvastatin alone' : 'Rosuvastatin with napabucasin'"}}},
"layer":[
{"transform":[{"filter":"datum.u != null"}],"mark":"rule","encoding":{"y2":{"field":"u"}}},
{"transform":[{"filter":"datum.u != null"}],"mark":{"type":"tick","orient":"horizontal","size":6},"encoding":{"y":{"field":"u","type":"quantitative"}}},
{"mark":"line"},
{"transform":[{"filter":"datum.g == 'a'"}],"mark":{"type":"point","shape":"circle","filled":false,"fill":"white"}},
{"transform":[{"filter":"datum.g == 'n'"}],"mark":{"type":"point","shape":"triangle-up","filled":false,"fill":"white"}},
{"transform":[{"filter":"datum.t < 0"}],"mark":{"type":"point","filled":true},"encoding":{
"shape":{"field":"g","type":"nominal","scale":{"domain":["a","n"],"range":["M-3,0H3M0.9,0A0.9,0.9,0,1,1,-0.9,0A0.9,0.9,0,1,1,0.9,0Z","M-3,0H3M0,-1.05L0.95,0.7L-0.95,0.7Z"]},"legend":{"title":null,"labelExpr":"datum.label == 'a' ? 'Rosuvastatin alone' : 'Rosuvastatin with napabucasin'"}}}}
]}
]
}
